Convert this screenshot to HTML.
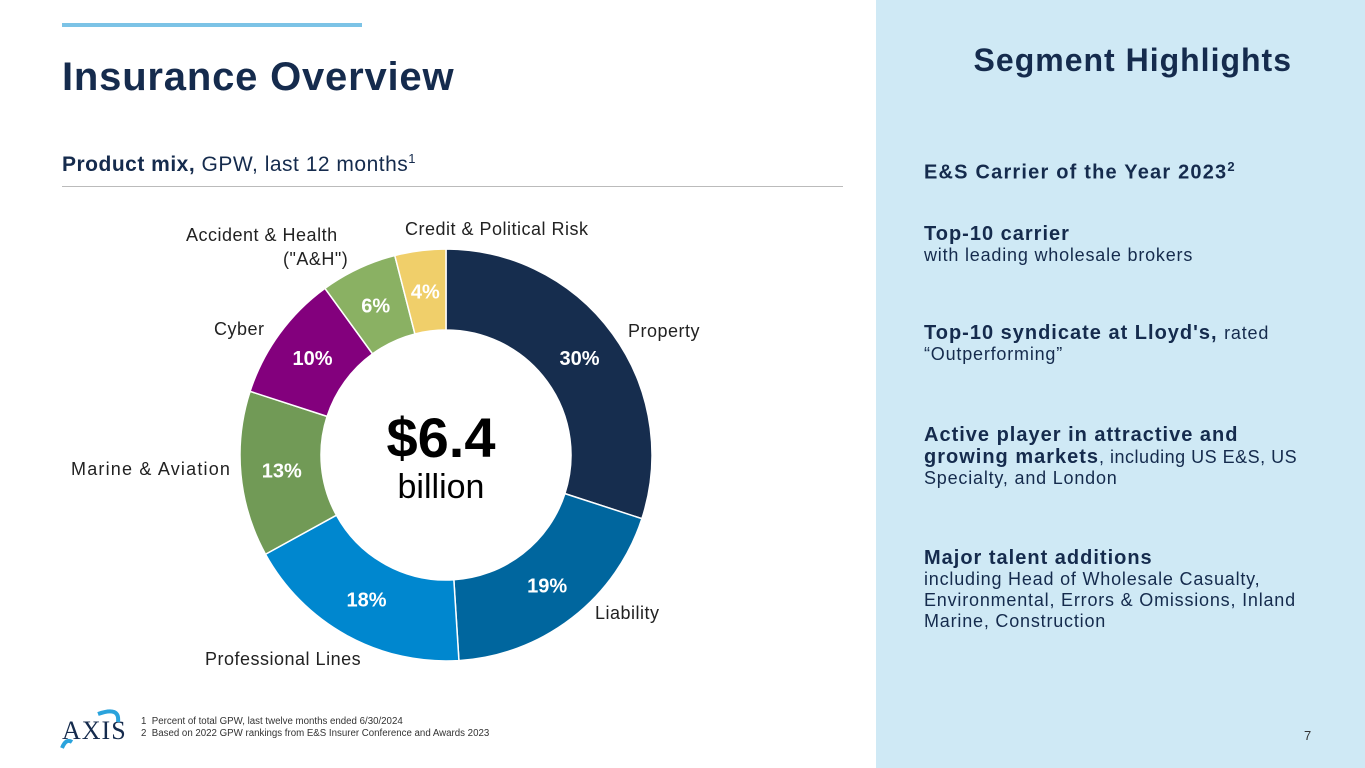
<!DOCTYPE html>
<html><head><meta charset="utf-8"><style>
body{margin:0;width:1365px;height:768px;position:relative;background:#fff;font-family:"Liberation Sans",sans-serif;overflow:hidden}
.a{position:absolute;white-space:nowrap}
.n{color:#152b4d}
.rp{position:absolute;left:876px;top:0;width:489px;height:768px;background:#cfe9f5}
.h{font-weight:bold;font-size:20px;color:#152b4d;line-height:22px;letter-spacing:1px}
.s{font-size:18px;color:#152b4d;line-height:21px;letter-spacing:0.8px}
.lab{font-size:18px;color:#222;letter-spacing:0.5px}
</style></head><body>
<div class="a" style="left:62px;top:23px;width:300px;height:4px;background:#7cc3e6"></div>
<div class="a n" style="left:62px;top:55px;font-size:40px;font-weight:bold;letter-spacing:0.8px">Insurance Overview</div>
<div class="a n" style="left:62px;top:151px;font-size:21px;letter-spacing:0.5px"><b>Product mix,</b> GPW, last 12 months<sup style="font-size:13px">1</sup></div>
<div class="a" style="left:62px;top:186px;width:781px;height:1px;background:#bbb"></div>
<svg class="a" id="chart" style="left:0;top:0" width="876" height="768"></svg>
<div class="a" style="left:346px;top:405px;width:190px;text-align:center;font-size:56px;font-weight:bold;color:#000">$6.4</div>
<div class="a" style="left:346px;top:468px;width:190px;text-align:center;font-size:34px;color:#000">billion</div>
<div class="a lab" style="left:628px;top:321px">Property</div>
<div class="a lab" style="left:595px;top:603px">Liability</div>
<div class="a lab" style="left:205px;top:649px">Professional Lines</div>
<div class="a lab" style="left:71px;top:459px;letter-spacing:1.2px">Marine &amp; Aviation</div>
<div class="a lab" style="left:214px;top:319px">Cyber</div>
<div class="a lab" style="left:186px;top:223px;line-height:24px">Accident &amp; Health</div>
<div class="a lab" style="left:283px;top:247px;line-height:24px">("A&amp;H")</div>
<div class="a lab" style="left:405px;top:219px">Credit &amp; Political Risk</div>
<div class="a" style="left:62px;top:716px;font-family:'Liberation Serif',serif;font-size:26px;color:#152b4d;letter-spacing:1px">AXIS</div>
<svg class="a" style="left:58px;top:708px" width="66" height="44"><path d="M4 40 Q8 30 14 34 M40 6 Q62 -2 60 14" stroke="#2aa3dc" stroke-width="4" fill="none"/></svg>
<div class="a" style="left:141px;top:716px;font-size:9.7px;color:#333;line-height:12px">1&nbsp; Percent of total GPW, last twelve months ended 6/30/2024<br>2&nbsp; Based on 2022 GPW rankings from E&amp;S Insurer Conference and Awards 2023</div>
<div class="rp">
<div class="a n" style="right:73px;top:42px;font-size:32px;font-weight:bold;letter-spacing:1px">Segment Highlights</div>
<div class="a h" style="left:48px;top:156px;letter-spacing:1.2px">E&amp;S Carrier of the Year 2023<sup style="font-size:13px">2</sup></div>
<div class="a" style="left:48px;top:223px"><div class="h">Top-10 carrier</div><div class="s">with leading wholesale brokers</div></div>
<div class="a" style="left:48px;top:322px"><div class="h">Top-10 syndicate at Lloyd's, <span style="font-weight:normal;font-size:18px;letter-spacing:0.8px">rated</span></div><div class="s">“Outperforming”</div></div>
<div class="a" style="left:48px;top:424px"><div class="h">Active player in attractive and</div><div class="h">growing markets<span style="font-weight:normal;font-size:18px;letter-spacing:0.5px">, including US E&amp;S, US</span></div><div class="s">Specialty, and London</div></div>
<div class="a" style="left:48px;top:547px"><div class="h">Major talent additions</div><div class="s">including Head of Wholesale Casualty,<br>Environmental, Errors &amp; Omissions, Inland<br>Marine, Construction</div></div>
<div class="a" style="left:428px;top:728px;font-size:13px;color:#333">7</div>
</div>
<script>
const categories=["Property","Liability","Professional Lines","Marine & Aviation","Cyber","Accident & Health","Credit & Political Risk"];
const values=[30,19,18,13,10,6,4];
const colors=["#162d4e","#00669e","#0087cf","#719a56","#83007d","#8ab163","#f0cf6a"];
const svg=document.getElementById('chart');
const cx=446,cy=455,R=206,r=125,NS="http://www.w3.org/2000/svg";
const total=values.reduce((a,b)=>a+b,0);
function pt(rad,a){return [cx+rad*Math.sin(a),cy-rad*Math.cos(a)];}
let acc=0;
values.forEach((v,i)=>{
 const a0=acc/total*2*Math.PI,a1=(acc+v)/total*2*Math.PI;acc+=v;
 const lg=(a1-a0)>Math.PI?1:0;
 const p1=pt(R,a0),p2=pt(R,a1),p3=pt(r,a1),p4=pt(r,a0);
 const p=document.createElementNS(NS,'path');
 p.setAttribute('d',`M${p1}A${R},${R} 0 ${lg} 1 ${p2}L${p3}A${r},${r} 0 ${lg} 0 ${p4}Z`);
 p.setAttribute('fill',colors[i]);p.setAttribute('stroke','#fff');p.setAttribute('stroke-width','1.5');
 
 
 svg.appendChild(p);
 const m=pt(165,(a0+a1)/2);
 const t=document.createElementNS(NS,'text');
 t.setAttribute('x',m[0]);t.setAttribute('y',m[1]+7);t.setAttribute('text-anchor','middle');
 t.setAttribute('font-size','20');t.setAttribute('font-weight','bold');t.setAttribute('fill','#fff');
 t.setAttribute('font-family','Liberation Sans, sans-serif');
 
 
 t.textContent=v+'%';svg.appendChild(t);
});
</script>
</body></html>
